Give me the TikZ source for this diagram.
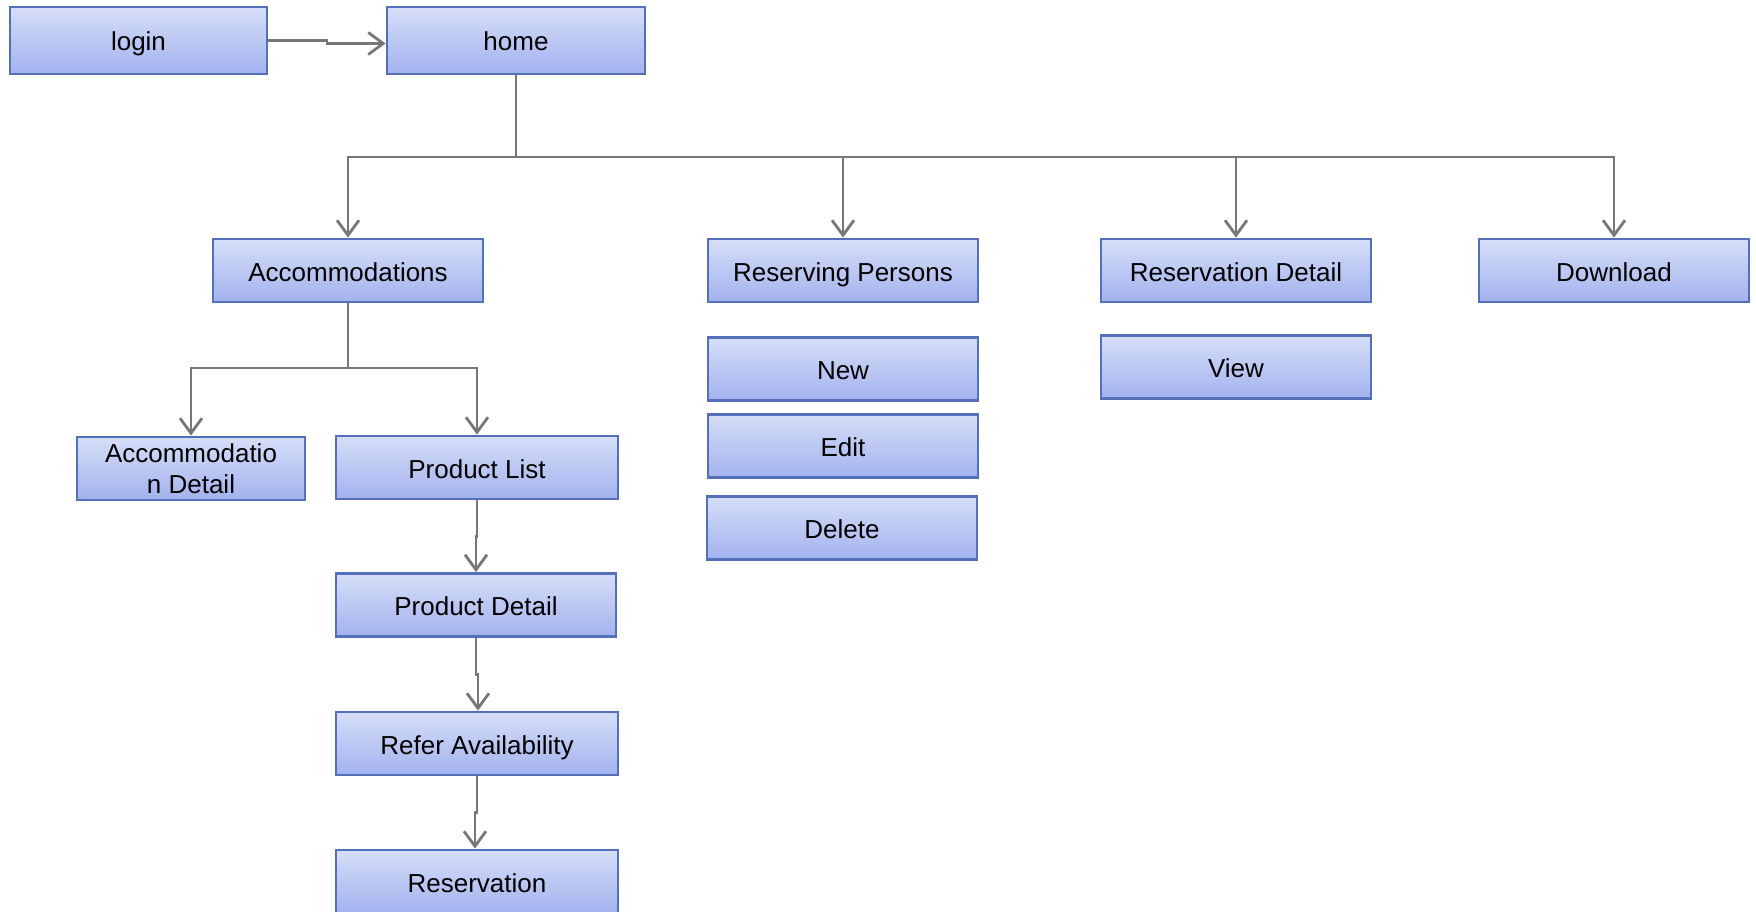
\documentclass[tikz,border=0pt]{standalone}
\usepackage{fontspec}
\setmainfont{Liberation Sans}
\usetikzlibrary{arrows.meta,calc}
\definecolor{boxtop}{HTML}{D6DEF8}
\definecolor{boxbot}{HTML}{A2B2EE}
\definecolor{boxline}{HTML}{5470B8}
\definecolor{conn}{HTML}{777777}
\tikzset{
  pagebox/.style={draw=boxline, line width=2.8pt, top color=boxtop, bottom color=boxbot,
    minimum height=#1, inner sep=0pt, text height=23pt, text depth=2pt,
    font=\fontsize{26}{28}\selectfont, text=black},
  pagebox/.default=63pt,
  conline/.style={draw=conn, line width=2.8pt},
  arr/.style={conline, -{Straight Barb[length=15pt,width=22pt,line width=2.8pt]}}
}
\begin{document}
\begin{tikzpicture}[x=1pt,y=-1pt]
\useasboundingbox (0,0) rectangle (1756,912);
\clip (0,0) rectangle (1756,912);
\node[pagebox=67pt, minimum width=257pt] (login) at (138.5,40.5) {login};
\node[pagebox=67pt, minimum width=258pt] (home) at (516,40.5) {home};
\node[pagebox, minimum width=270pt] (acc) at (348,270.5) {Accommodations};
\node[pagebox, minimum width=270pt] (rp) at (843,270.5) {Reserving Persons};
\node[pagebox, minimum width=270pt] (rd) at (1236,270.5) {Reservation Detail};
\node[pagebox, minimum width=270pt] (dl) at (1614,270.5) {Download};
\node[pagebox, minimum width=270pt] (new) at (843,369) {New};
\node[pagebox, minimum width=270pt] (edit) at (843,446) {Edit};
\node[pagebox, minimum width=270pt] (del) at (842,528) {Delete};
\node[pagebox, minimum width=270pt] (view) at (1236,367) {View};
\node[pagebox, minimum width=228pt, align=center, text height=, text depth=, font=\fontsize{26}{31}\selectfont] (ad) at (191,468.5) {Accommodatio\\n Detail};
\node[pagebox, minimum width=282pt] (pl) at (477,467.5) {Product List};
\node[pagebox, minimum width=280pt] (pd) at (476,605) {Product Detail};
\node[pagebox, minimum width=282pt] (ra) at (477,743.5) {Refer Availability};
\node[pagebox, minimum width=282pt] (res) at (477,881.5) {Reservation};
% connectors
\coordinate (bus) at (516,157);
\coordinate (accbus) at (348,368);
\coordinate (lj) at (327,40.5);
\draw[arr] (login.east) -- (lj) |- ([yshift=-3pt]home.west);
\draw[conline] (home.south) -- (bus);
\draw[arr] (bus) -| (acc.north);
\draw[arr] (bus) -| (rp.north);
\draw[arr] (bus) -| (rd.north);
\draw[arr] (bus) -| (dl.north);
\draw[conline] (acc.south) -- (accbus);
\draw[arr] (accbus) -| (ad.north);
\draw[arr] (accbus) -| (pl.north);
\draw[arr] (pl.south) -- ($(pl.south)!0.5!(pl.south |- pd.north)$) -| (pd.north);
\draw[arr] (pd.south) -- ($(pd.south)!0.5!(pd.south |- ra.north)$) -| ([xshift=1pt]ra.north);
\draw[arr] (ra.south) -- ($(ra.south)!0.5!(ra.south |- res.north)$) -| ([xshift=-2pt]res.north);
\end{tikzpicture}
\end{document}
